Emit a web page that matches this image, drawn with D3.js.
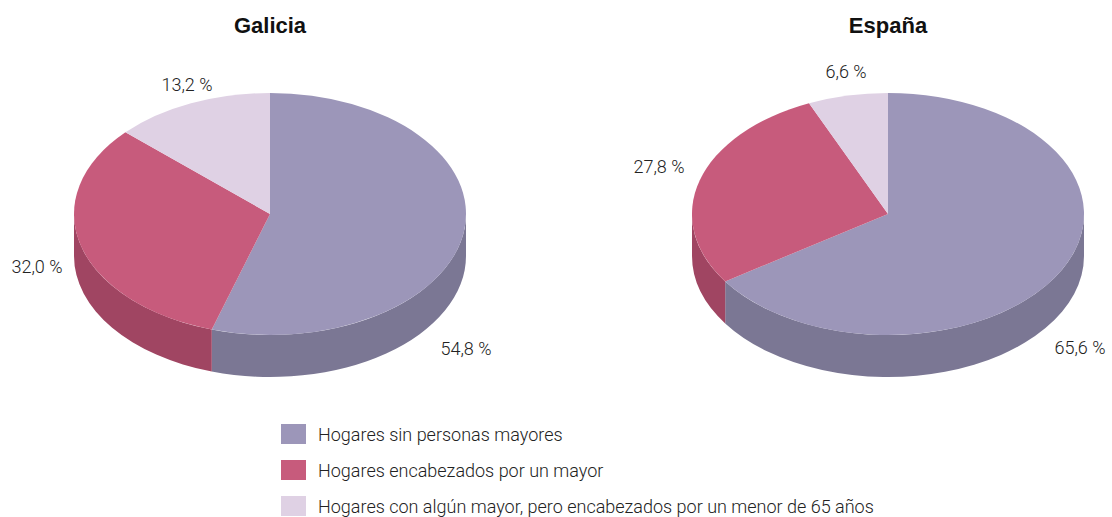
<!DOCTYPE html>
<html>
<head>
<meta charset="utf-8">
<script src="https://cdn.jsdelivr.net/npm/d3@7"></script>
<style>
  body { margin: 0; background: #fff; }
  svg { display: block; }
  .lbl { font-family: Roboto, "DejaVu Sans", sans-serif; font-weight: 300; font-size: 18px; fill: #222; }
  .ttl { font-family: "Liberation Sans", Arial, sans-serif; font-weight: bold; font-size: 22px; fill: #111; }
</style>
</head>
<body>
<div id="chart"></div>
<script>
// data
var regions = ["Galicia", "España"]
var categories = ["Hogares sin personas mayores", "Hogares encabezados por un mayor", "Hogares con algún mayor, pero encabezados por un menor de 65 años"]
var galiciaValues = [54.8, 32.0, 13.2]
var espanaValues = [65.6, 27.8, 6.6]
var valueLabels = [["54,8 %", "32,0 %", "13,2 %"], ["65,6 %", "27,8 %", "6,6 %"]]

var topColors = ["#9c96b9", "#c75b7c", "#dfd1e4"]
var sideColors = ["#7b7794", "#a04562", "#c2b0c8"]

var W = 1112, H = 517
var svg = d3.select("#chart").append("svg").attr("width", W).attr("height", H)

var rx = 196, ry = 121, depth = 42
var centers = [[270, 214], [888, 214]]
// label offsets from pie centre (text centre, baseline)
var labelOffsets = [
  [[196, 141], [-233, 59], [-83, -123]],
  [[192, 140], [-229, -41], [-42, -136]]
]

var pie = d3.pie().sort(null).value(function(d) { return d })

function drawPie(values, idx) {
  var cx = centers[idx][0], cy = centers[idx][1]
  function pt(a, dy) { return [cx + rx * Math.sin(a), cy - ry * Math.cos(a) + (dy || 0)] }
  var arcs = pie(values)
  var g = svg.append("g")

  // sides (front half only)
  arcs.forEach(function(a, i) {
    var s = Math.max(a.startAngle, Math.PI / 2), e = Math.min(a.endAngle, 3 * Math.PI / 2)
    if (e <= s) return
    var p0 = pt(s), p1 = pt(e), p2 = pt(e, depth), p3 = pt(s, depth)
    var d = "M" + p0 + " A" + rx + "," + ry + " 0 0 1 " + p1 +
      " L" + p2 + " A" + rx + "," + ry + " 0 0 0 " + p3 + " Z"
    g.append("path").attr("d", d).attr("fill", sideColors[i])
  })

  // tops
  arcs.forEach(function(a, i) {
    var p0 = pt(a.startAngle), p1 = pt(a.endAngle)
    var large = (a.endAngle - a.startAngle) > Math.PI ? 1 : 0
    var d = "M" + cx + "," + cy + " L" + p0 + " A" + rx + "," + ry + " 0 " + large + " 1 " + p1 + " Z"
    g.append("path").attr("d", d).attr("fill", topColors[i])
  })

  // labels
  arcs.forEach(function(a, i) {
    g.append("text").attr("class", "lbl")
      .attr("x", cx + labelOffsets[idx][i][0])
      .attr("y", cy + labelOffsets[idx][i][1])
      .attr("text-anchor", "middle")
      .text(valueLabels[idx][i])
  })

  svg.append("text").attr("class", "ttl")
    .attr("x", cx).attr("y", 33)
    .attr("text-anchor", "middle")
    .text(regions[idx])
}

drawPie(galiciaValues, 0)
drawPie(espanaValues, 1)

// legend
var legend = svg.append("g").attr("transform", "translate(281,424)")
categories.forEach(function(c, i) {
  legend.append("rect").attr("x", 0).attr("y", i * 36).attr("width", 25).attr("height", 20).attr("fill", topColors[i])
  legend.append("text").attr("class", "lbl").attr("x", 37).attr("y", i * 36 + 17).text(c)
})
</script>
</body>
</html>
